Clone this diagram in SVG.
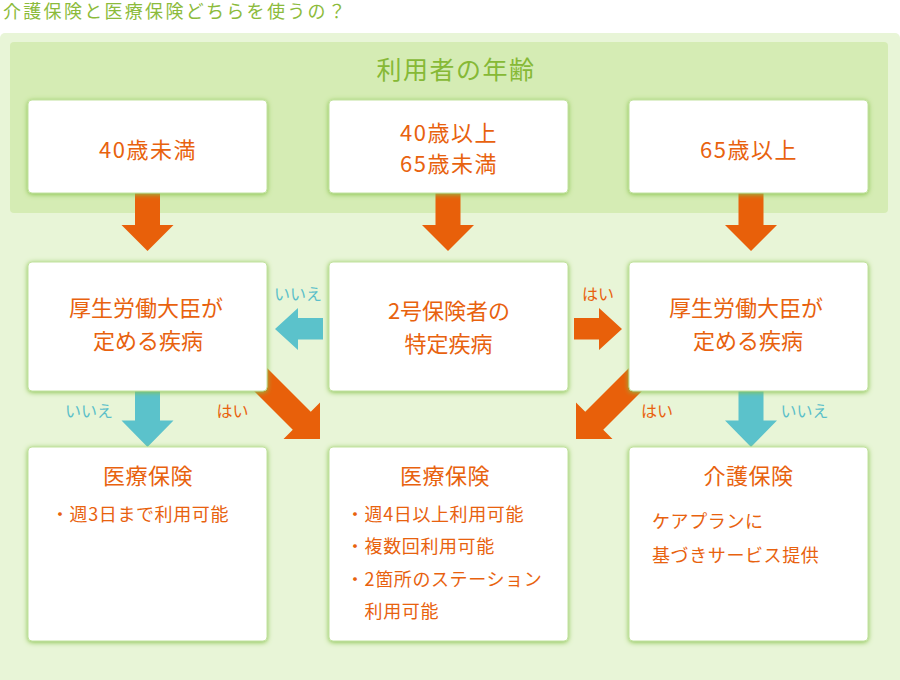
<svg xmlns="http://www.w3.org/2000/svg" width="900" height="680" viewBox="0 0 900 680">
  <defs>
    <filter id="glow" x="-10%" y="-10%" width="120%" height="125%">
      <feDropShadow dx="0" dy="1" stdDeviation="2.4" flood-color="#86c24a" flood-opacity="1"/>
    </filter>
    <style>
      text { font-family: "Noto Sans CJK JP", "Noto Sans", sans-serif; }
      .title { font-size: 18px; fill: #8cbb3b; letter-spacing: 2.3px; }
      .band-title { font-size: 25px; fill: #86b936; letter-spacing: 1.5px; text-anchor: middle; }
      .box { fill: #ffffff; stroke: #c2e29e; stroke-width: 1; filter: url(#glow); }
      .t1 { font-size: 22px; fill: #e8620e; letter-spacing: 1.5px; text-anchor: middle; }
      .t2 { font-size: 22px; fill: #e8620e; text-anchor: middle; }
      .t3 { font-size: 22px; fill: #e8620e; letter-spacing: 0.5px; text-anchor: middle; }
      .body { font-size: 18px; fill: #e8620e; letter-spacing: 0.6px; }
      .org { fill: #e8600a; }
      .cyan { fill: #5bc2cb; }
      .lbl-y { font-size: 16px; fill: #e8620e; text-anchor: middle; }
      .lbl-n { font-size: 16px; fill: #5bbfc9; text-anchor: middle; }
    </style>
  </defs>

  <!-- page title -->
  <text class="title" x="3" y="18">介護保険と医療保険どちらを使うの？</text>

  <!-- panels -->
  <rect x="0" y="33" width="900" height="660" rx="5" fill="#e8f5d7"/>
  <rect x="10" y="42" width="878" height="171" rx="4" fill="#d5ecb4"/>
  <text class="band-title" x="456" y="79">利用者の年齢</text>

  <!-- connectors -->
  <g id="connectors">
    <!-- top row down arrows -->
    <polygon class="org" points="135,190 160,190 160,225 173.5,225 147.5,251 121.5,225 135,225"/>
    <polygon class="org" points="435.5,190 460.5,190 460.5,225 474,225 448,251 422,225 435.5,225"/>
    <polygon class="org" points="738.5,190 763.5,190 763.5,225 777,225 751,251 725,225 738.5,225"/>
    <!-- middle: no -> left -->
    <polygon class="cyan" points="323,318 298,318 298,308 275,329 298,350 298,339.5 323,339.5"/>
    <text class="lbl-n" x="298" y="300">いいえ</text>
    <!-- middle: yes -> right -->
    <polygon class="org" points="574,318 599,318 599,308 622,329 599,350 599,339.5 574,339.5"/>
    <text class="lbl-y" x="598" y="300">はい</text>
    <!-- left: no down -->
    <polygon class="cyan" points="135,385 160,385 160,420.5 173.5,420.5 147.5,447 121.5,420.5 135,420.5"/>
    <text class="lbl-n" x="89" y="417">いいえ</text>
    <!-- left: yes diagonal -->
    <polygon class="org" points="250,351 310.75,411.75 320,402.5 320,439 283.5,439 292.75,429.75 237,374"/>
    <text class="lbl-y" x="232.5" y="417">はい</text>
    <!-- right: yes diagonal -->
    <polygon class="org" points="646,351 585.25,411.75 576,402.5 576,439 612.5,439 603.25,429.75 659,374"/>
    <text class="lbl-y" x="657" y="417">はい</text>
    <!-- right: no down -->
    <polygon class="cyan" points="738.5,385 763.5,385 763.5,420.5 777,420.5 751,447 725,420.5 738.5,420.5"/>
    <text class="lbl-n" x="804.5" y="417">いいえ</text>
  </g>

  <!-- top row -->
  <g id="age-under40">
    <rect class="box" x="28" y="100" width="239" height="93" rx="4"/>
    <text class="t1" x="148" y="157.5">40歳未満</text>
  </g>
  <g id="age-40to64">
    <rect class="box" x="329" y="100" width="239" height="93" rx="4"/>
    <text class="t1" x="449" y="141">40歳以上</text>
    <text class="t1" x="449" y="172">65歳未満</text>
  </g>
  <g id="age-over65">
    <rect class="box" x="629" y="100" width="239" height="93" rx="4"/>
    <text class="t1" x="749" y="157.5">65歳以上</text>
  </g>

  <!-- middle row -->
  <g id="disease-left">
    <rect class="box" x="28" y="262" width="239" height="129" rx="4"/>
    <text class="t2" x="146" y="315.5">厚生労働大臣が</text>
    <text class="t2" x="148" y="348.5">定める疾病</text>
  </g>
  <g id="specific-disease">
    <rect class="box" x="329" y="262" width="239" height="129" rx="4"/>
    <text class="t2" x="449" y="318.5">2号保険者の</text>
    <text class="t2" x="448.5" y="352">特定疾病</text>
  </g>
  <g id="disease-right">
    <rect class="box" x="629" y="262" width="239" height="129" rx="4"/>
    <text class="t2" x="746" y="315.5">厚生労働大臣が</text>
    <text class="t2" x="748" y="348.5">定める疾病</text>
  </g>

  <!-- bottom row -->
  <g id="medical-left">
    <rect class="box" x="28" y="447" width="239" height="194" rx="4"/>
    <text class="t3" x="148" y="483.5">医療保険</text>
    <text class="body" x="51" y="520.5">・週3日まで利用可能</text>
  </g>
  <g id="medical-middle">
    <rect class="box" x="329" y="447" width="239" height="194" rx="4"/>
    <text class="t3" x="445" y="483.5">医療保険</text>
    <text class="body" x="346" y="520.5">・週4日以上利用可能</text>
    <text class="body" x="346" y="553">・複数回利用可能</text>
    <text class="body" x="346" y="585.5">・2箇所のステーション</text>
    <text class="body" x="364.6" y="618">利用可能</text>
  </g>
  <g id="care-right">
    <rect class="box" x="629" y="447" width="239" height="194" rx="4"/>
    <text class="t3" x="748.5" y="483.5">介護保険</text>
    <text class="body" x="652" y="528">ケアプランに</text>
    <text class="body" x="652" y="561.5">基づきサービス提供</text>
  </g>
</svg>
